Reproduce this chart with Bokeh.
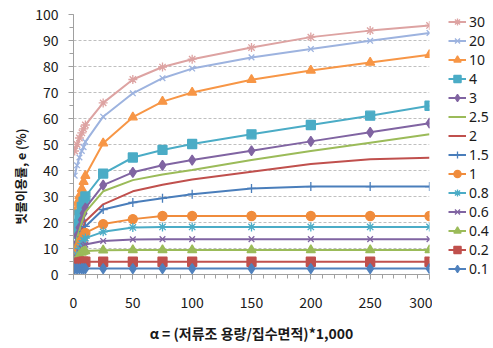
from bokeh.plotting import figure
from bokeh.layouts import row
from bokeh.models import Legend, LegendItem, Title, Range1d, FixedTicker
from bokeh.embed import file_html
from bokeh.resources import INLINE

# ---- data ----
x_vals = [1, 3, 5, 7, 8.5, 10, 25, 50, 75, 100, 150, 200, 250, 300]

s_30  = [47.5, 50, 52.5, 54.5, 56, 57.5, 66, 75, 79.8, 82.8, 87.3, 91.3, 93.8, 95.8]
s_20  = [38, 42, 45, 47.5, 49, 51, 60.7, 69.7, 75.5, 79.2, 83.5, 86.7, 89.9, 92.9]
s_10  = [24, 27.4, 30.2, 33, 35.7, 38, 50.5, 60.5, 66.5, 70, 74.9, 78.5, 81.5, 84.5]
s_4   = [15.5, 19.5, 23, 26, 28, 30, 38.8, 45, 47.9, 50.2, 53.9, 57.5, 61.1, 64.9]
s_3   = [11, 15, 18, 21, 23.5, 25.5, 34.4, 39.3, 42, 44, 47.6, 51.2, 54.7, 58.2]
s_2_5 = [10, 14, 17, 20, 22, 24, 32, 36.3, 38.5, 40.2, 44, 47.5, 50.7, 53.9]
s_2   = [7, 11, 14, 16.5, 18.5, 20.5, 27, 32, 34.5, 36.5, 39.5, 42.5, 44.3, 44.9]
s_1_5 = [5, 9, 12, 14.5, 16.5, 18.5, 25, 27.7, 29.3, 30.9, 33.1, 33.8, 33.8, 33.8]
s_1   = [5, 8.5, 11, 13, 14.5, 16, 19.4, 21.3, 22.5, 22.5, 22.5, 22.5, 22.5, 22.5]
s_0_8 = [4, 7.5, 10, 12, 13, 14, 16.4, 18.1, 18.3, 18.3, 18.3, 18.3, 18.3, 18.3]
s_0_6 = [3.5, 6.5, 8.5, 10, 11, 11.5, 12.9, 13.5, 13.6, 13.6, 13.6, 13.6, 13.6, 13.6]
s_0_4 = [3, 5.5, 7.5, 8.5, 8.8, 9, 9.3, 9.4, 9.4, 9.4, 9.4, 9.4, 9.4, 9.4]
s_0_2 = [3.5, 4.3, 4.7, 4.8, 4.9, 4.9, 4.9, 4.9, 4.9, 4.9, 4.9, 4.9, 4.9, 4.9]
s_0_1 = [2.2, 2.2, 2.2, 2.3, 2.3, 2.3, 2.3, 2.3, 2.3, 2.3, 2.3, 2.3, 2.3, 2.3]

series_names = ["30", "20", "10", "4", "3", "2.5", "2", "1.5", "1", "0.8", "0.6", "0.4", "0.2", "0.1"]
series_vals = [s_30, s_20, s_10, s_4, s_3, s_2_5, s_2, s_1_5, s_1, s_0_8, s_0_6, s_0_4, s_0_2, s_0_1]

x_ticks = [0, 50, 100, 150, 200, 250, 300]
y_ticks = [0, 10, 20, 30, 40, 50, 60, 70, 80, 90, 100]

x_title = "α = (저류조 용량/집수면적)*1,000"
y_title = "빗물이용률, e (%)"

# ---- styles ----
styles = {
    "30":  ("#DDA3A2", "asterisk", 9),
    "20":  ("#9DB3DF", "x", 8),
    "10":  ("#F79646", "triangle", 9),
    "4":   ("#4BACC6", "square", 9),
    "3":   ("#8064A2", "diamond", 10),
    "2.5": ("#9BBB59", None, 0),
    "2":   ("#C0504D", None, 0),
    "1.5": ("#4A7EBB", "cross", 9),
    "1":   ("#F08C3C", "circle", 9),
    "0.8": ("#4BACC6", "asterisk", 9),
    "0.6": ("#8064A2", "x", 8),
    "0.4": ("#9BBB59", "triangle", 9),
    "0.2": ("#C0504D", "square", 9),
    "0.1": ("#4F81BD", "diamond", 10),
}

FONT = "Noto Sans CJK KR"
H = 346

p = figure(width=432, height=H, x_range=Range1d(0, 300), y_range=Range1d(0, 100),
           output_backend="svg", toolbar_location=None,
           min_border_left=73, min_border_right=3, min_border_top=14, min_border_bottom=72)
p.outline_line_color = None
p.background_fill_color = "white"

p.xgrid.grid_line_color = None
p.ygrid.grid_line_color = "#BFBFBF"
p.ygrid.grid_line_dash = "3 2"
p.ygrid.grid_line_width = 1

p.xaxis.ticker = FixedTicker(ticks=x_ticks, minor_ticks=list(range(0, 301, 10)))
p.yaxis.ticker = FixedTicker(ticks=y_ticks, minor_ticks=list(range(0, 101, 5)))

for ax in (p.xaxis[0], p.yaxis[0]):
    ax.axis_line_color = "#A0A0A0"
    ax.major_tick_line_color = "#A0A0A0"
    ax.minor_tick_line_color = "#A0A0A0"
    ax.major_tick_in = 0
    ax.minor_tick_in = 0
    ax.major_tick_out = 5
    ax.minor_tick_out = 4
    ax.major_label_text_font = FONT
    ax.major_label_text_font_size = "14px"
    ax.major_label_text_color = "#1a1a1a"

p.xaxis.major_label_standoff = 17
p.yaxis.major_label_standoff = 10

p.xaxis.axis_label = x_title
p.xaxis.axis_label_text_font = FONT
p.xaxis.axis_label_text_font_size = "14px"
p.xaxis.axis_label_text_font_style = "bold"
p.xaxis.axis_label_text_color = "#1a1a1a"
p.xaxis.axis_label_standoff = 12

ytitle = Title(text=y_title, align="left", offset=50, vertical_align="middle",
               text_font=FONT, text_font_size="12.5px", text_font_style="bold",
               text_color="#1a1a1a", standoff=4)
p.add_layout(ytitle, "left")

# legend figure (right of the chart)
q = figure(width=61, height=H, x_range=Range1d(0, 1), y_range=Range1d(0, 1),
           output_backend="svg", toolbar_location=None,
           min_border_left=0, min_border_right=0, min_border_top=14, min_border_bottom=72)
q.axis.visible = False
q.grid.visible = False
q.outline_line_color = None

off_x = [-5, -4]   # keeps the legend's proxy glyphs outside the visible range
off_y = [-5, -4]

items = []
for name, vals in zip(series_names, series_vals):
    color, marker, size = styles[name]
    p.line(x_vals, vals, line_color=color, line_width=2)
    ql = q.line(off_x, off_y, line_color=color, line_width=2)
    rends = [ql]
    if marker:
        p.scatter(x_vals, vals, marker=marker, size=size, fill_color=color,
                  line_color=color, line_width=1.3)
        qm = q.scatter(off_x, off_y, marker=marker, size=size, fill_color=color,
                       line_color=color, line_width=1.3)
        rends.append(qm)
    items.append(LegendItem(label=name, renderers=rends))

legend = Legend(items=items, location=(16, -4), padding=2, margin=0,
                spacing=0, glyph_width=18, glyph_height=19, label_height=19,
                label_standoff=3, label_text_font="Noto Sans", label_text_font_size="14px",
                label_text_color="#1a1a1a", border_line_color=None,
                background_fill_alpha=0)
q.add_layout(legend, "center")

layout = row(p, q)
open("out.html", "w").write(file_html(layout, INLINE))
